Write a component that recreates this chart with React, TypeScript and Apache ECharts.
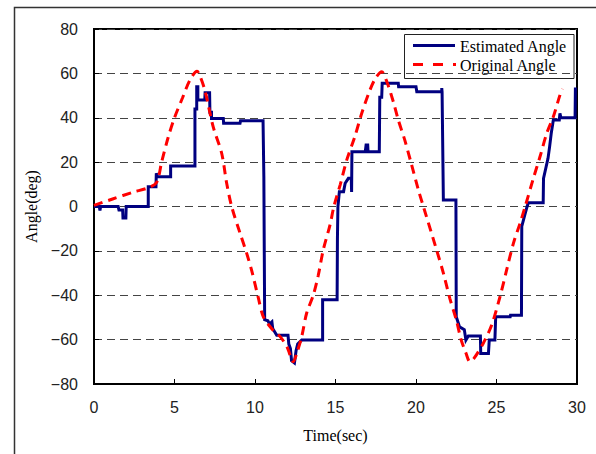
import React, { useEffect, useRef } from "react";
import * as echarts from "echarts";

const xTicks = [0, 5, 10, 15, 20, 25, 30];
const yTicks = [-80, -60, -40, -20, 0, 20, 40, 60, 80];

const estimatedName = "Estimated Angle";
const originalName = "Original Angle";

// Estimated angle: [time(sec), angle(deg)] (step-like trace)
const estimated: [number, number][] = [
  [0, 0], [0.33, 0], [0.37, -1.8], [0.41, 0], [1.5, 0], [1.55, -1.6], [1.78, -1.6],
  [1.8, -5.2], [1.98, -5.2], [2.0, 0], [3.37, 0], [3.37, 8.9], [3.85, 8.9],
  [3.87, 15], [3.93, 13.4], [4.76, 13.4], [4.76, 18.2], [6.27, 18.2], [6.27, 44],
  [6.38, 44], [6.38, 54], [6.45, 54], [6.45, 48], [6.88, 48], [6.9, 51.3],
  [7.18, 51.3], [7.2, 42.5], [7.3, 42.5], [7.3, 39.7], [8.03, 39.7], [8.05, 37.5],
  [9.07, 37.5], [9.1, 38.6], [10.5, 38.6], [10.55, 13.4], [10.6, -51],
  [10.8, -51.5], [10.9, -53], [11.05, -52], [11.1, -55], [11.35, -58],
  [12.05, -58], [12.1, -62], [12.2, -64], [12.27, -69.5], [12.45, -70.5],
  [12.55, -65], [12.65, -62], [12.9, -60.2], [14.2, -60.2], [14.2, -42],
  [15.1, -42], [15.12, -14.3], [15.15, 0], [15.24, 6.7], [15.5, 6.7],
  [15.6, 10.5], [15.8, 12.7], [15.98, 12.7], [16.0, 6.5], [16.02, 24.7],
  [16.85, 24.7], [16.9, 27.7], [17.0, 27.7], [17.02, 24.7], [17.72, 24.7],
  [17.75, 49.2], [17.87, 49.2], [17.9, 55.5], [18.9, 55.5], [18.92, 54],
  [20.0, 54], [20.05, 51.7], [21.6, 51.7], [21.6, 53.4], [21.62, 51.7],
  [21.7, 2.9], [22.48, 2.9], [22.5, -49.7], [22.7, -54.2], [23.0, -55.5],
  [23.1, -60.2], [23.25, -58.4], [24.0, -58.4], [24.02, -66.2], [24.5, -66.2],
  [24.55, -60.2], [24.9, -60.2], [24.95, -49.7], [25.85, -49.7], [25.87, -49],
  [26.55, -49], [26.57, -9], [26.75, -4], [26.9, 0], [26.98, 1.7], [27.9, 1.7],
  [27.92, 12.7], [28.2, 21.7], [28.3, 27], [28.4, 33], [28.53, 39], [28.9, 39],
  [28.94, 42], [29.0, 40], [29.88, 40], [29.9, 53], [30, 53],
];

// Original angle: [time(sec), angle(deg)]
const original: [number, number][] = [
  [0, 0.5], [1.2, 3.5], [2.4, 6.4], [3.4, 8.5], [3.9, 11], [4.2, 20], [4.6, 31],
  [5.0, 40], [5.5, 49], [5.96, 57], [6.4, 61], [6.6, 58.5], [6.9, 52], [7.4, 36],
  [7.93, 24], [8.24, 10.5], [8.55, 0], [9.07, -12], [9.48, -21], [9.8, -29],
  [10.2, -41], [10.52, -49.7], [11.1, -55.6], [11.6, -59], [12.0, -63.5],
  [12.38, -70], [12.6, -66], [12.9, -58.7], [13.21, -48], [13.62, -40],
  [13.93, -31], [14.24, -19.6], [14.66, -8.3], [14.9, 0], [15.3, 10],
  [15.7, 21], [16.2, 31.5], [16.63, 42], [17.14, 52.5], [17.5, 58], [17.87, 60.7],
  [18.2, 56], [18.6, 47], [18.9, 39], [19.3, 30], [19.7, 19.5], [20.15, 7.4],
  [20.5, -1], [21.28, -19.6], [21.7, -30], [22.1, -41.4], [22.5, -51],
  [22.8, -60], [23.1, -66], [23.35, -70], [23.6, -68.5], [24.18, -61.6],
  [24.7, -53.4], [25.22, -40.6], [25.63, -28.6], [26.05, -16.6], [26.46, -7.6],
  [26.8, 0.5], [27.29, 12.7], [27.7, 22.4], [28.12, 33], [28.53, 40.5],
  [28.94, 50.2], [29.1, 53],
];

const navy = "#000080";
const red = "#ff0000";

export default function App() {
  const ref = useRef<HTMLDivElement>(null);
  useEffect(() => {
    if (!ref.current) return;
    const chart = echarts.init(ref.current, undefined, { renderer: "svg" });
    const gridDash = { color: "#444", width: 1, type: [8, 5] as number[] };
    const legendFont = { fontFamily: "Liberation Serif", fontSize: 16, fill: "#000" };
    chart.setOption({
      animation: false,
      backgroundColor: "#fff",
      grid: {
        left: 94, top: 29, right: 19, bottom: 70,
        show: true, borderColor: "#000", borderWidth: 2,
      },
      graphic: [
        {
          type: "rect",
          left: 12, top: 5,
          shape: { width: 700, height: 600 },
          style: { fill: "none", stroke: "#333", lineWidth: 1.5 },
          silent: true,
          z: -10,
        },
        {
          type: "group",
          z: 100,
          children: [
            {
              type: "rect",
              shape: { x: 404.5, y: 34.5, width: 169.5, height: 44 },
              style: { fill: "#fff", stroke: "#222", lineWidth: 1 },
            },
            {
              type: "line",
              shape: { x1: 413, y1: 45.5, x2: 455, y2: 45.5 },
              style: { stroke: navy, lineWidth: 3 },
            },
            {
              type: "line",
              shape: { x1: 413, y1: 64.5, x2: 456, y2: 64.5 },
              style: { stroke: red, lineWidth: 3, lineDash: [10, 10] },
            },
            {
              type: "text",
              x: 460, y: 46,
              style: { ...legendFont, text: estimatedName, verticalAlign: "middle" },
            },
            {
              type: "text",
              x: 460, y: 65,
              style: { ...legendFont, text: originalName, verticalAlign: "middle" },
            },
          ],
        },
      ],
      legend: { show: false },
      xAxis: {
        type: "value",
        min: xTicks[0], max: xTicks[xTicks.length - 1], interval: 5,
        name: "Time(sec)",
        nameLocation: "middle",
        nameGap: 43,
        nameTextStyle: { fontFamily: "Liberation Serif", fontSize: 16, color: "#000" },
        axisLine: { show: true, onZero: false, lineStyle: { color: "#000", width: 2 } },
        axisTick: { show: true, inside: true, length: 5, lineStyle: { color: "#000" } },
        axisLabel: { margin: 15, fontFamily: "Liberation Sans", fontSize: 16, color: "#222" },
        splitLine: { show: false },
      },
      yAxis: {
        type: "value",
        min: yTicks[0], max: yTicks[yTicks.length - 1], interval: 20,
        name: "Angle(deg)",
        nameLocation: "middle",
        nameRotate: 90,
        nameGap: 52,
        nameTextStyle: { fontFamily: "Liberation Serif", fontSize: 16, color: "#000" },
        axisLine: { show: true, onZero: false, lineStyle: { color: "#000", width: 2 } },
        axisTick: { show: true, inside: true, length: 5, lineStyle: { color: "#000" } },
        axisLabel: {
          margin: 16, fontFamily: "Liberation Sans", fontSize: 16, color: "#222",
          formatter: (v: number) => String(v).replace("-", "\u2212"),
        },
        splitLine: {
          show: true,
          lineStyle: gridDash,
        },
      },
      series: [
        {
          name: estimatedName,
          type: "line",
          data: estimated,
          symbol: "none",
          showSymbol: false,
          lineStyle: { color: navy, width: 3, join: "miter" },
          itemStyle: { color: navy },
          z: 3,
        },
        {
          name: originalName,
          type: "line",
          data: original,
          symbol: "none",
          showSymbol: false,
          smooth: 0.3,
          lineStyle: { color: red, width: 3, type: [9, 6] },
          itemStyle: { color: red },
          z: 4,
        },
      ],
    });
    return () => chart.dispose();
  }, []);
  return (
    <div
      ref={ref}
      style={{ position: "fixed", left: 0, top: 0, width: 596, height: 454 }}
    />
  );
}
